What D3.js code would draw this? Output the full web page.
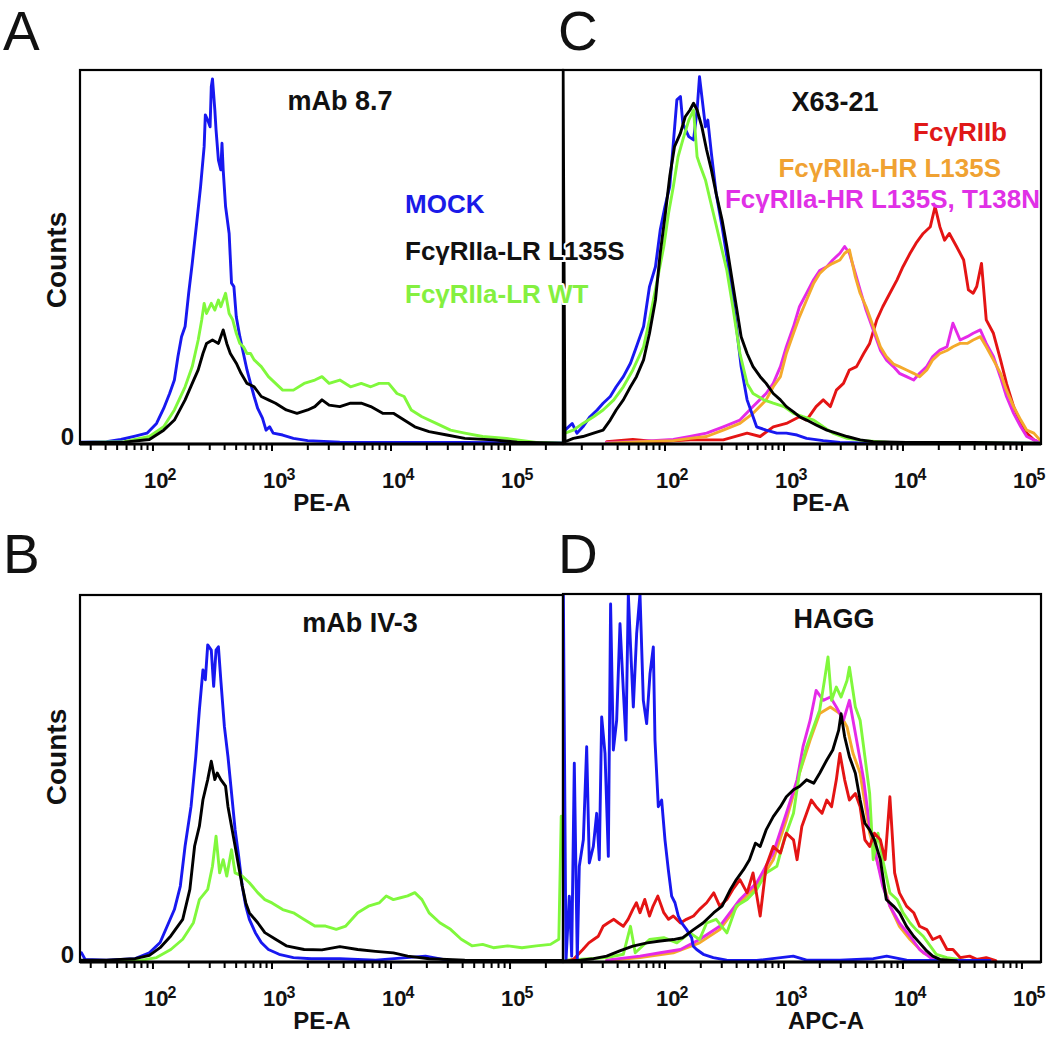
<!DOCTYPE html>
<html><head><meta charset="utf-8">
<script src="https://cdn.jsdelivr.net/npm/d3@7"></script>
<style>
body{margin:0;background:#fff;}
svg{display:block;font-family:"Liberation Sans",Arial,Helvetica,sans-serif;}
</style></head><body>
<svg id="chart" width="1050" height="1038"></svg>
<script>
// ---- DATA: each point = [log10 fluorescence intensity, relative count (% of axis height)] ----
const A_mock = [[1.39,0.5],[1.61,0.6],[1.73,1.2],[1.85,2.1],[1.95,2.9],[2.03,5.5],[2.09,9.5],[2.14,13.5],[2.18,17.1],[2.21,23.4],[2.24,28.7],[2.27,31.4],[2.30,40.3],[2.33,48.3],[2.37,59.9],[2.40,68.8],[2.43,79.5],[2.44,88.0],[2.46,86.6],[2.48,84.8],[2.49,95.5],[2.50,97.6],[2.52,89.3],[2.53,84.0],[2.55,75.9],[2.57,73.3],[2.58,80.4],[2.59,73.3],[2.61,63.5],[2.64,56.3],[2.66,43.0],[2.68,42.1],[2.70,34.0],[2.73,28.7],[2.76,24.2],[2.79,19.8],[2.82,16.2],[2.85,12.7],[2.88,9.5],[2.92,6.9],[2.95,3.7],[2.98,4.6],[3.01,2.9],[3.09,2.4],[3.18,1.5],[3.30,0.9],[3.57,0.5],[4.02,0.4],[4.62,0.4],[5.44,0.3]];
const A_lrWT = [[1.39,0.4],[1.76,0.6],[1.97,2.0],[2.09,4.6],[2.18,9.1],[2.27,15.3],[2.33,20.7],[2.38,27.8],[2.41,33.2],[2.43,37.6],[2.45,34.9],[2.49,37.6],[2.52,35.8],[2.55,38.5],[2.57,36.7],[2.61,40.3],[2.64,34.9],[2.67,33.2],[2.70,29.6],[2.73,26.9],[2.76,26.0],[2.79,24.2],[2.82,24.2],[2.85,22.5],[2.91,20.7],[2.97,18.0],[3.03,16.2],[3.09,14.4],[3.18,14.4],[3.27,16.2],[3.36,17.1],[3.42,18.0],[3.48,16.2],[3.57,17.1],[3.66,15.3],[3.75,16.2],[3.83,15.3],[3.90,16.2],[3.98,16.2],[4.05,13.5],[4.11,12.7],[4.17,9.1],[4.26,7.3],[4.38,5.5],[4.50,3.7],[4.62,2.9],[4.77,2.0],[4.97,1.5],[5.06,1.1],[5.22,0.4],[5.44,0.2]];
const A_lrL135S = [[1.39,0.4],[1.76,0.5],[1.97,1.2],[2.09,3.7],[2.18,6.4],[2.27,11.8],[2.33,16.2],[2.38,19.8],[2.42,24.2],[2.45,26.9],[2.50,27.8],[2.55,26.9],[2.59,30.5],[2.62,26.9],[2.65,24.2],[2.70,21.6],[2.74,18.9],[2.79,16.2],[2.85,15.3],[2.91,12.7],[2.97,11.8],[3.03,10.9],[3.12,9.1],[3.21,8.2],[3.30,9.1],[3.36,10.0],[3.42,11.8],[3.48,10.4],[3.57,10.0],[3.66,10.9],[3.75,10.9],[3.83,10.0],[3.93,8.2],[4.02,8.2],[4.11,6.4],[4.20,4.6],[4.32,3.3],[4.47,2.4],[4.62,1.5],[4.86,1.1],[5.06,0.5],[5.44,0.2]];

const B_mock = [[1.40,2.5],[1.43,0.7],[1.61,0.5],[1.85,0.9],[1.97,2.5],[2.06,5.3],[2.12,9.8],[2.18,14.3],[2.23,20.7],[2.27,31.6],[2.32,42.4],[2.36,56.0],[2.39,68.7],[2.42,79.6],[2.44,76.9],[2.46,86.4],[2.49,85.0],[2.51,75.1],[2.53,85.0],[2.55,85.9],[2.57,76.9],[2.60,64.2],[2.63,56.0],[2.66,46.1],[2.69,36.1],[2.72,28.8],[2.75,20.7],[2.78,15.2],[2.81,11.6],[2.86,8.0],[2.91,5.3],[2.97,3.4],[3.06,2.1],[3.18,1.2],[3.33,0.9],[3.57,0.9],[3.87,0.5],[4.29,1.6],[4.47,0.5],[4.92,0.4],[5.44,0.4]];
const B_lrWT = [[1.40,0.4],[1.91,0.5],[2.03,1.2],[2.15,3.4],[2.25,6.2],[2.34,10.7],[2.39,17.0],[2.46,19.8],[2.50,26.1],[2.53,34.3],[2.56,24.3],[2.59,27.9],[2.62,23.4],[2.66,30.6],[2.69,24.3],[2.75,23.4],[2.81,21.6],[2.88,18.9],[2.94,17.0],[3.00,16.1],[3.09,14.3],[3.18,13.4],[3.27,11.6],[3.36,9.8],[3.45,9.8],[3.54,8.9],[3.62,9.8],[3.72,13.4],[3.81,15.2],[3.90,16.1],[3.96,18.0],[4.02,17.0],[4.08,17.5],[4.14,18.0],[4.20,18.9],[4.26,17.0],[4.32,13.4],[4.41,10.7],[4.50,8.9],[4.59,6.2],[4.68,4.4],[4.77,4.8],[4.86,3.9],[4.98,4.4],[5.10,3.9],[5.22,4.4],[5.34,4.8],[5.41,6.2],[5.43,39.7]];
const B_lrL135S = [[1.40,0.5],[1.61,0.5],[1.85,0.9],[1.97,1.8],[2.06,3.9],[2.15,7.1],[2.25,11.6],[2.31,19.8],[2.35,31.6],[2.39,37.0],[2.42,44.2],[2.46,49.7],[2.49,54.7],[2.52,49.7],[2.54,51.5],[2.57,49.7],[2.61,47.9],[2.63,42.4],[2.66,37.0],[2.69,31.6],[2.72,26.1],[2.75,20.7],[2.78,16.1],[2.81,13.4],[2.88,10.7],[2.94,8.0],[3.03,6.2],[3.12,4.4],[3.27,3.4],[3.42,3.3],[3.57,4.2],[3.72,3.4],[3.87,2.9],[4.02,2.5],[4.14,1.6],[4.32,0.9],[4.62,0.5],[5.44,0.4]];

const C_mock = [[1.16,3.7],[1.22,5.5],[1.26,2.9],[1.31,4.6],[1.37,7.3],[1.43,9.1],[1.48,10.9],[1.54,12.7],[1.59,15.3],[1.65,18.0],[1.71,21.6],[1.76,26.0],[1.82,31.4],[1.87,42.1],[1.92,47.4],[1.96,57.2],[2.00,63.5],[2.04,68.8],[2.07,80.4],[2.10,92.0],[2.13,92.9],[2.15,85.7],[2.20,82.2],[2.24,81.3],[2.27,89.3],[2.29,98.2],[2.31,92.9],[2.34,84.8],[2.36,86.6],[2.39,77.7],[2.43,67.0],[2.48,58.1],[2.52,50.1],[2.56,41.2],[2.60,31.4],[2.64,20.7],[2.69,11.8],[2.73,8.2],[2.77,4.6],[2.85,3.7],[2.94,2.9],[3.02,2.9],[3.11,2.4],[3.19,1.5],[3.33,0.9],[3.47,0.4],[3.75,0.2],[5.15,0.2]];
const C_lrWT = [[1.16,2.9],[1.23,3.7],[1.31,5.5],[1.40,7.3],[1.48,9.1],[1.57,11.8],[1.65,15.3],[1.73,19.8],[1.82,26.0],[1.87,33.2],[1.93,43.0],[1.99,52.8],[2.03,61.7],[2.07,68.8],[2.11,76.8],[2.15,81.3],[2.20,86.6],[2.24,89.3],[2.27,76.8],[2.29,74.9],[2.34,70.6],[2.38,65.2],[2.42,59.9],[2.46,54.5],[2.52,46.4],[2.57,36.7],[2.63,24.2],[2.69,16.2],[2.74,13.5],[2.83,11.8],[2.91,10.9],[3.00,10.0],[3.08,8.2],[3.16,7.3],[3.25,6.4],[3.33,4.6],[3.41,2.9],[3.53,1.5],[3.67,0.9],[3.89,0.4],[5.15,0.2]];
const C_lrL135S = [[1.143,100],[1.16,0.6],[1.23,1.5],[1.31,2.0],[1.40,2.9],[1.48,3.7],[1.54,6.4],[1.59,9.1],[1.65,11.8],[1.71,15.3],[1.76,18.0],[1.82,22.5],[1.87,29.6],[1.92,38.5],[1.96,51.0],[2.00,60.8],[2.04,71.5],[2.08,79.5],[2.13,83.1],[2.17,87.5],[2.21,89.3],[2.24,91.1],[2.27,89.3],[2.31,84.8],[2.35,78.6],[2.39,73.3],[2.43,67.0],[2.48,59.9],[2.52,52.8],[2.56,44.7],[2.60,36.7],[2.64,28.7],[2.69,24.2],[2.74,20.7],[2.80,18.0],[2.85,16.2],[2.91,13.5],[2.97,11.8],[3.02,10.0],[3.08,8.6],[3.13,7.3],[3.19,6.4],[3.27,5.1],[3.36,3.7],[3.44,2.9],[3.53,2.0],[3.64,1.1],[3.75,0.6],[4.03,0.4],[4.59,0.4],[5.15,0.2]];
const C_IIb = [[1.51,0.6],[1.73,1.2],[1.93,0.6],[2.21,1.1],[2.49,1.1],[2.69,2.9],[2.80,2.0],[2.91,4.6],[3.02,5.5],[3.13,7.3],[3.19,6.4],[3.27,10.0],[3.33,11.8],[3.39,10.0],[3.44,14.4],[3.50,16.2],[3.55,19.8],[3.61,20.7],[3.67,24.2],[3.72,26.9],[3.78,33.2],[3.83,36.7],[3.89,40.3],[3.95,43.9],[4.00,47.4],[4.06,51.0],[4.11,53.7],[4.17,56.3],[4.23,58.1],[4.27,63.5],[4.31,58.1],[4.35,54.5],[4.39,56.3],[4.45,52.8],[4.51,49.2],[4.55,41.2],[4.59,40.3],[4.62,42.1],[4.66,48.3],[4.70,33.2],[4.76,29.6],[4.82,22.5],[4.87,16.2],[4.93,10.0],[4.99,5.5],[5.04,2.9],[5.10,1.1],[5.15,0.4]];
const C_hrL135S = [[1.51,0.2],[1.79,0.6],[2.07,0.9],[2.21,1.5],[2.35,2.0],[2.49,3.7],[2.63,5.5],[2.74,8.2],[2.85,11.8],[2.91,15.3],[2.97,18.0],[3.02,24.2],[3.08,29.6],[3.13,34.0],[3.19,38.5],[3.25,43.0],[3.30,45.6],[3.36,47.4],[3.41,48.3],[3.47,49.2],[3.51,51.0],[3.55,51.9],[3.60,44.7],[3.64,40.3],[3.69,36.7],[3.75,31.4],[3.81,26.0],[3.86,23.4],[3.92,21.4],[3.97,20.7],[4.03,19.8],[4.09,18.9],[4.14,18.0],[4.20,19.8],[4.25,22.5],[4.31,24.2],[4.37,25.0],[4.42,26.0],[4.48,26.9],[4.54,26.9],[4.59,27.8],[4.65,28.7],[4.70,26.0],[4.76,22.5],[4.82,18.9],[4.87,14.4],[4.93,10.0],[4.99,6.4],[5.04,3.7],[5.10,2.9],[5.15,1.1]];
const C_hrT138N = [[1.51,0.4],[1.79,0.7],[2.07,1.2],[2.21,2.0],[2.35,2.9],[2.49,4.6],[2.63,6.4],[2.74,10.0],[2.85,13.5],[2.91,16.2],[2.97,20.7],[3.02,26.0],[3.08,31.4],[3.13,36.7],[3.19,40.3],[3.25,44.0],[3.30,46.4],[3.36,47.4],[3.41,49.2],[3.47,51.0],[3.51,52.8],[3.55,51.0],[3.60,45.6],[3.64,41.2],[3.69,35.8],[3.75,30.5],[3.81,25.1],[3.86,22.5],[3.92,20.7],[3.97,18.9],[4.03,18.0],[4.09,17.1],[4.14,18.9],[4.20,20.7],[4.25,23.4],[4.31,25.1],[4.37,26.0],[4.42,32.3],[4.48,27.8],[4.54,28.7],[4.59,29.6],[4.65,30.5],[4.70,26.9],[4.76,23.4],[4.82,17.8],[4.87,12.7],[4.93,8.2],[4.99,4.6],[5.04,2.0],[5.10,1.1],[5.15,0.4]];

const D_mock = [[1.146,100],[1.168,0.3],[1.196,17.9],[1.216,1.6],[1.238,54.0],[1.263,0.7],[1.280,26.0],[1.314,33.2],[1.342,58.5],[1.364,26.9],[1.398,31.4],[1.426,40.4],[1.448,27.8],[1.468,66.6],[1.496,56.7],[1.524,28.7],[1.543,97.3],[1.566,57.6],[1.594,65.7],[1.622,91.9],[1.650,73.8],[1.672,60.3],[1.692,100],[1.711,85.6],[1.734,69.3],[1.762,89.2],[1.790,100],[1.818,71.1],[1.846,64.8],[1.874,78.3],[1.902,85.6],[1.916,60.3],[1.944,42.2],[1.972,44.0],[2.000,33.2],[2.028,25.1],[2.056,17.9],[2.084,16.1],[2.112,12.5],[2.140,10.6],[2.182,8.8],[2.224,6.6],[2.238,4.3],[2.266,3.4],[2.322,2.1],[2.406,1.2],[2.518,0.5],[2.770,0.4],[3.078,1.6],[3.190,0.5],[3.471,0.5],[3.751,0.9],[3.863,1.6],[4.031,0.5],[4.311,0.4],[4.731,0.4]];
const D_lrWT = [[1.16,0.5],[1.37,0.9],[1.51,1.2],[1.65,2.1],[1.71,9.7],[1.75,2.5],[1.87,6.1],[1.99,6.6],[2.10,5.2],[2.21,7.9],[2.29,6.1],[2.35,10.6],[2.43,11.6],[2.52,7.9],[2.60,15.2],[2.69,17.0],[2.77,19.7],[2.85,24.2],[2.94,26.0],[3.00,33.2],[3.08,40.4],[3.13,51.3],[3.19,58.5],[3.25,63.9],[3.30,68.4],[3.34,76.5],[3.37,82.9],[3.40,71.1],[3.44,74.7],[3.48,72.0],[3.53,76.5],[3.55,80.1],[3.60,69.3],[3.64,65.7],[3.68,55.8],[3.72,45.8],[3.75,27.8],[3.79,35.0],[3.83,27.8],[3.89,18.8],[3.95,17.0],[4.00,13.4],[4.06,10.6],[4.11,8.8],[4.17,7.0],[4.23,4.3],[4.28,2.1],[4.37,1.2],[4.51,0.5]];
const D_lrL135S = [[1.16,0.3],[1.29,0.5],[1.40,0.9],[1.51,1.6],[1.62,3.0],[1.73,4.3],[1.85,5.2],[1.96,5.7],[2.07,6.1],[2.15,6.6],[2.24,8.8],[2.32,10.6],[2.41,13.4],[2.48,15.2],[2.55,19.7],[2.60,22.4],[2.66,25.1],[2.71,27.8],[2.76,32.3],[2.80,31.4],[2.85,35.9],[2.91,39.5],[2.97,42.2],[3.02,44.9],[3.08,46.8],[3.13,47.7],[3.19,49.5],[3.25,48.6],[3.30,51.3],[3.36,54.9],[3.41,57.6],[3.46,63.0],[3.48,67.5],[3.51,61.2],[3.55,55.8],[3.60,51.3],[3.64,44.0],[3.68,37.7],[3.72,35.9],[3.76,33.2],[3.81,27.8],[3.86,17.0],[3.92,15.2],[3.97,13.4],[4.03,9.7],[4.09,7.0],[4.14,5.2],[4.20,3.0],[4.25,1.6],[4.31,0.7],[4.45,0.3]];
const D_IIb = [[1.16,0.0],[1.23,0.7],[1.31,3.4],[1.36,5.2],[1.40,6.1],[1.44,7.0],[1.48,9.7],[1.52,10.6],[1.57,11.6],[1.61,10.6],[1.65,9.7],[1.69,11.6],[1.73,14.3],[1.76,16.1],[1.79,13.4],[1.83,17.0],[1.87,12.5],[1.90,15.2],[1.94,17.9],[1.99,13.4],[2.03,11.6],[2.07,12.5],[2.13,10.6],[2.18,11.6],[2.24,12.5],[2.29,14.3],[2.35,16.1],[2.41,18.8],[2.46,15.2],[2.52,17.0],[2.57,19.7],[2.63,22.4],[2.69,18.8],[2.74,24.2],[2.80,12.5],[2.85,26.0],[2.91,31.4],[2.97,29.6],[3.02,35.0],[3.08,33.2],[3.11,27.8],[3.15,36.8],[3.19,40.4],[3.23,44.0],[3.27,42.2],[3.32,40.4],[3.36,44.0],[3.40,42.2],[3.44,49.5],[3.47,56.7],[3.51,49.5],[3.55,44.0],[3.60,45.8],[3.64,42.2],[3.68,33.2],[3.72,31.4],[3.76,35.0],[3.81,33.2],[3.85,27.8],[3.89,44.9],[3.93,24.2],[3.97,18.8],[4.03,15.2],[4.09,13.4],[4.14,9.7],[4.20,8.8],[4.25,6.1],[4.31,7.0],[4.37,3.4],[4.42,3.4],[4.48,1.2],[4.56,1.6],[4.62,0.7],[4.70,1.2],[4.78,0.4]];
const D_hrL135S = [[1.51,0.4],[1.79,1.2],[2.07,2.5],[2.29,5.2],[2.46,8.8],[2.63,16.1],[2.77,20.6],[2.91,27.8],[3.02,38.6],[3.13,51.3],[3.22,60.3],[3.30,67.5],[3.39,69.3],[3.47,67.5],[3.53,63.9],[3.58,56.7],[3.64,51.3],[3.72,35.0],[3.81,24.2],[3.89,15.2],[3.97,9.7],[4.06,6.1],[4.17,2.5],[4.31,0.5]];
const D_hrT138N = [[1.51,0.5],[1.79,1.6],[1.96,2.5],[2.13,3.4],[2.29,6.1],[2.46,9.7],[2.63,17.0],[2.77,21.5],[2.91,29.6],[3.02,40.4],[3.11,49.5],[3.16,58.5],[3.22,65.7],[3.27,73.8],[3.33,71.1],[3.39,72.0],[3.44,69.3],[3.50,65.7],[3.55,71.1],[3.61,60.3],[3.67,49.5],[3.72,36.8],[3.78,27.8],[3.83,20.6],[3.89,15.2],[3.97,10.6],[4.06,7.0],[4.14,3.4],[4.23,1.2],[4.31,0.5]];

// axis decades labelled on every panel, and text
const tickPowers = [2, 3, 4, 5];
const legendA = ["MOCK", "FcγRIIa-LR L135S", "FcγRIIa-LR WT"];
const legendC = ["FcγRIIb", "FcγRIIa-HR L135S", "FcγRIIa-HR L135S, T138N"];
const titles = ["mAb 8.7", "mAb IV-3", "X63-21", "HAGG"];
const xLabels = ["PE-A", "PE-A", "PE-A", "APC-A"];

// ---- styling / layout ----
const COL = {mock:"#1818f0", lrL135S:"#000000", lrWT:"#80f83c", IIb:"#e41414", hrL135S:"#f4aa2c", hrT138N:"#e52ae8"};
const TXT = {mock:"#1a1ae8", lrL135S:"#111111", lrWT:"#84f040", IIb:"#e01818", hrL135S:"#f0a232", hrT138N:"#e030e6"};

const panels = [
  {letter:"A", lx:3, ly:50, x0:80, x1:563, y0:70, y1:444, dom:[1.387,5.445], title:titles[0], tx:340, ty:110, xl:xLabels[0], xlx:322, counts:true, cy:260,
   series:[[A_mock,"mock"],[A_lrWT,"lrWT"],[A_lrL135S,"lrL135S"]]},
  {letter:"B", lx:3, ly:573, x0:80, x1:563, y0:595, y1:962, dom:[1.387,5.445], title:titles[1], tx:360, ty:632, xl:xLabels[1], xlx:322, counts:true, cy:757,
   series:[[B_mock,"mock"],[B_lrWT,"lrWT"],[B_lrL135S,"lrL135S"]]},
  {letter:"C", lx:558, ly:50, x0:563, x1:1041, y0:70, y1:444, dom:[1.143,5.16], title:titles[2], tx:835, ty:111, xl:xLabels[2], xlx:821, counts:false,
   series:[[C_IIb,"IIb"],[C_hrT138N,"hrT138N"],[C_hrL135S,"hrL135S"],[C_mock,"mock"],[C_lrWT,"lrWT"],[C_lrL135S,"lrL135S"]]},
  {letter:"D", lx:558, ly:573, x0:563, x1:1041, y0:594, y1:962, dom:[1.143,5.16], title:titles[3], tx:834, ty:628, xl:xLabels[3], xlx:826, counts:false,
   series:[[D_hrL135S,"hrL135S"],[D_hrT138N,"hrT138N"],[D_lrWT,"lrWT"],[D_IIb,"IIb"],[D_mock,"mock"],[D_lrL135S,"lrL135S"]]}
];

const svg = d3.select("#chart");
svg.append("rect").attr("width",1050).attr("height",1038).attr("fill","#fff");
const defs = svg.append("defs");

panels.forEach((p, i) => {
  const x = d3.scaleLog().domain([10 ** p.dom[0], 10 ** p.dom[1]]).range([p.x0, p.x1]);
  const y = d3.scaleLinear().domain([0, 100]).range([p.y1, p.y0]);
  const g = svg.append("g");

  defs.append("clipPath").attr("id", "clip" + i)
    .append("rect").attr("x", p.x0).attr("y", p.y0).attr("width", p.x1 - p.x0).attr("height", p.y1 - p.y0);

  const line = d3.line().x(d => x(10 ** d[0])).y(d => y(d[1]));
  const lg = g.append("g").attr("clip-path", `url(#clip${i})`);
  p.series.forEach(([data, key]) => {
    lg.append("path").attr("d", line(data)).attr("fill", "none")
      .attr("stroke", COL[key]).attr("stroke-width", 2.9)
      .attr("stroke-linejoin", "round").attr("stroke-linecap", "round");
  });

  // frame
  g.append("rect").attr("x", p.x0).attr("y", p.y0).attr("width", p.x1 - p.x0).attr("height", p.y1 - p.y0)
    .attr("fill", "none").attr("stroke", "#000").attr("stroke-width", 2.2);
  g.append("line").attr("x1", p.x0).attr("x2", p.x1).attr("y1", p.y1).attr("y2", p.y1)
    .attr("stroke", "#000").attr("stroke-width", 3);

  // ticks
  const ticks = x.ticks().filter(t => t >= x.domain()[0] && t <= x.domain()[1]);
  g.selectAll(null).data(ticks).enter().append("line")
    .attr("x1", d => x(d)).attr("x2", d => x(d))
    .attr("y1", p.y1).attr("y2", d => p.y1 + (Math.abs(Math.log10(d) - Math.round(Math.log10(d))) < 1e-9 ? 7 : 6))
    .attr("stroke", "#000").attr("stroke-width", 2);

  // tick labels 10^n
  tickPowers.forEach(pw => {
    const t = g.append("text").attr("x", x(10 ** pw) - 9).attr("y", p.y1 + 44)
      .attr("font-weight", "bold").attr("fill", "#111");
    t.append("tspan").attr("font-size", 22).text("10");
    t.append("tspan").attr("font-size", 16).attr("dy", -8).attr("dx", -1).text(pw);
  });

  g.append("text").attr("x", p.xlx).attr("y", p.y1 + 67).attr("text-anchor", "middle")
    .attr("font-size", 24).attr("font-weight", "bold").attr("fill", "#111").text(p.xl);

  if (p.counts) {
    g.append("text").attr("x", 74).attr("y", y(0) + 1).attr("text-anchor", "end")
      .attr("font-size", 24).attr("font-weight", "bold").attr("fill", "#111").text("0");
    g.append("text").attr("transform", `translate(66,${p.cy}) rotate(-90)`).attr("text-anchor", "middle")
      .attr("font-size", 28).attr("font-weight", "bold").attr("fill", "#111").text("Counts");
  }

  g.append("text").attr("x", p.tx).attr("y", p.ty).attr("text-anchor", "middle")
    .attr("font-size", 27).attr("font-weight", "bold").attr("fill", "#111").text(p.title);

  svg.append("text").attr("x", p.lx).attr("y", p.ly).attr("font-size", 55)
    .attr("fill", "#111").text(p.letter);
});

// legends
const legA = [[legendA[0], "mock", 405, 213], [legendA[1], "lrL135S", 405, 260], [legendA[2], "lrWT", 405, 303]];
legA.forEach(([t, k, lx, ly]) => {
  svg.append("text").attr("x", lx).attr("y", ly).attr("font-size", 26).attr("font-weight", "bold")
    .attr("fill", TXT[k]).attr("stroke", "#fff").attr("stroke-width", 4).attr("paint-order", "stroke")
    .attr("stroke-linejoin", "round").text(t);
});
const legC = [[legendC[0], "IIb", 1007, 141], [legendC[1], "hrL135S", 1001, 177], [legendC[2], "hrT138N", 1040, 208]];
legC.forEach(([t, k, lx, ly]) => {
  svg.append("text").attr("x", lx).attr("y", ly).attr("text-anchor", "end").attr("font-size", 26).attr("font-weight", "bold")
    .attr("fill", TXT[k]).text(t);
});
</script>
</body></html>
